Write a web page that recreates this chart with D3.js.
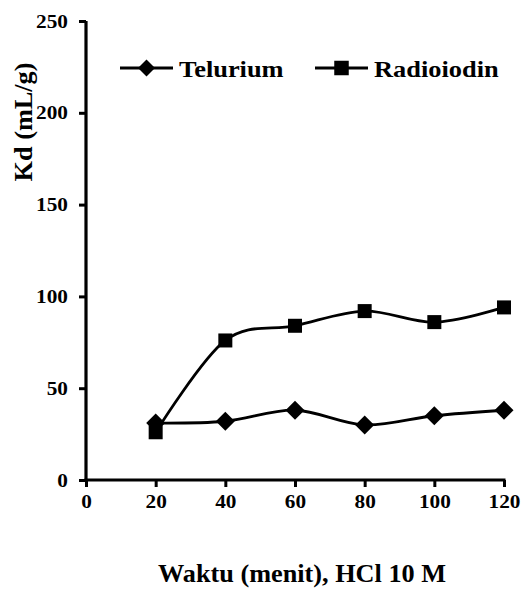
<!DOCTYPE html>
<html>
<head>
<meta charset="utf-8">
<script src="https://cdn.jsdelivr.net/npm/d3@7"></script>
<style>
  html, body { margin: 0; padding: 0; background: #fff; }
  svg { display: block; }
</style>
</head>
<body>
<svg id="chart" width="523" height="590"></svg>
<script>
// ---- data ----
const times = [20, 40, 60, 80, 100, 120];
const telurium = [31, 32, 38, 30, 35, 38];
const radioiodin = [26, 76, 84, 92, 86, 94];
const seriesNames = ["Telurium", "Radioiodin"];
const xTicks = [0, 20, 40, 60, 80, 100, 120];
const yTicks = [0, 50, 100, 150, 200, 250];
const xTitle = "Waktu (menit), HCl 10 M";
const yTitle = "Kd (mL/g)";

// ---- layout ----
const W = 523, H = 590;
const margin = { left: 86, right: 19, top: 21, bottom: 110 };
const svg = d3.select("#chart");
const FONT = "'Liberation Serif'";

const x = d3.scaleLinear().domain([0, 120]).range([margin.left, W - margin.right]);
const y = d3.scaleLinear().domain([0, 250]).range([H - margin.bottom, margin.top]);

// axes
const xAxis = d3.axisBottom(x).tickValues(xTicks).tickSize(7).tickPadding(8).tickFormat(d3.format("d"));
const yAxis = d3.axisLeft(y).tickValues(yTicks).tickSize(7).tickPadding(10).tickFormat(d3.format("d"));

const gx = svg.append("g").attr("transform", `translate(0,${y(0)})`).call(xAxis);
const gy = svg.append("g").attr("transform", `translate(${x(0)},0)`).call(yAxis);

const TS = 1.12; // horizontal stretch of tick labels
[gx, gy].forEach(g => {
  g.attr("font-family", FONT).attr("font-size", 19).attr("font-weight", "bold");
  g.select(".domain").attr("stroke", "#000").attr("stroke-width", 3.2);
  g.selectAll(".tick line").attr("stroke", "#000").attr("stroke-width", 3);
  g.selectAll(".tick text").attr("fill", "#000");
});
gx.select(".domain").attr("d", `M${x(0) - 1.5},0H${x(120) + 1.5}`);
gy.select(".domain").attr("d", `M0,${y(0) + 1.5}V${y(250)}`);
gx.selectAll(".tick text").attr("dy", "0.71em").attr("transform", `scale(${TS},1)`);
gy.selectAll(".tick text").attr("x", -18 / TS).attr("transform", `scale(${TS},1)`);

// lines
const line = d3.line()
  .x((d, i) => x(times[i]))
  .y(d => y(d))
  .curve(d3.curveCardinal.tension(0));

const data = [telurium, radioiodin];
const plot = svg.append("g");
data.forEach(vals => {
  plot.append("path").attr("d", line(vals))
    .attr("fill", "none").attr("stroke", "#000").attr("stroke-width", 2.8);
});

function drawDiamond(g, cx, cy, r) {
  g.append("path").attr("d", `M${cx},${cy - r}L${cx + r},${cy}L${cx},${cy + r}L${cx - r},${cy}Z`).attr("fill", "#000");
}
function drawSquare(g, cx, cy, s) {
  g.append("rect").attr("x", cx - s / 2).attr("y", cy - s / 2).attr("width", s).attr("height", s).attr("fill", "#000");
}
telurium.forEach((v, i) => drawDiamond(plot, x(times[i]), y(v), 9.5));
radioiodin.forEach((v, i) => drawSquare(plot, x(times[i]), y(v), 14));

function stretchedText(px, py, str, size, sx, anchor, rot) {
  return svg.append("text")
    .attr("transform", `translate(${px},${py})${rot ? ` rotate(${rot})` : ""} scale(${sx},1)`)
    .attr("text-anchor", anchor || "start")
    .attr("font-family", FONT).attr("font-weight", "bold").attr("font-size", size)
    .attr("fill", "#000").text(str);
}

// legend
const ly = 68;
svg.append("line").attr("x1", 120).attr("x2", 173).attr("y1", ly).attr("y2", ly).attr("stroke", "#000").attr("stroke-width", 2.8);
drawDiamond(svg, 146.5, ly, 8.5);
stretchedText(179, ly + 8.5, seriesNames[0], 24, 1.1);
svg.append("line").attr("x1", 315).attr("x2", 368).attr("y1", ly).attr("y2", ly).attr("stroke", "#000").attr("stroke-width", 2.8);
drawSquare(svg, 341.5, ly, 14.5);
stretchedText(374, ly + 8.5, seriesNames[1], 24, 1.1);

// titles
stretchedText(302, 582, xTitle, 25, 1.05, "middle");
stretchedText(32, 122, yTitle, 25, 1.05, "middle", -90);
</script>
</body>
</html>
